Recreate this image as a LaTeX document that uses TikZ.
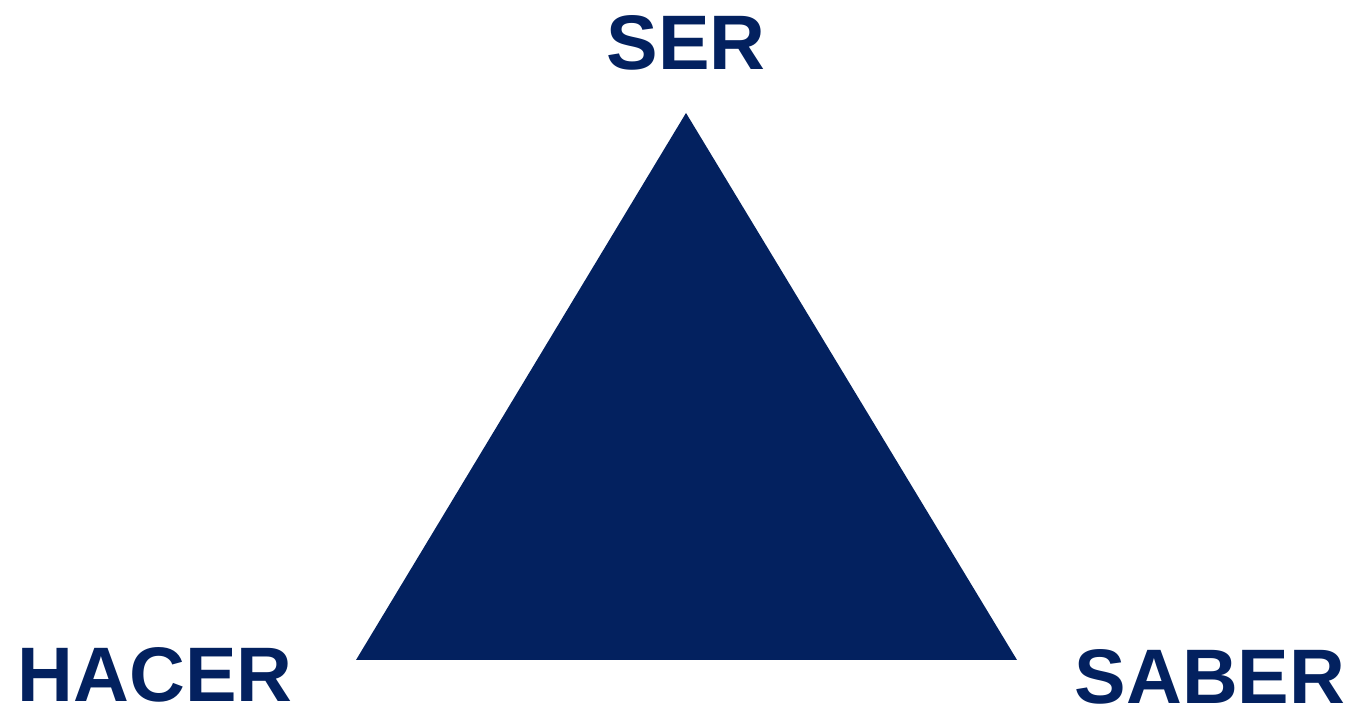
\documentclass[tikz,border=0pt]{standalone}
\usepackage{fontspec}
\setmainfont{Liberation Sans}
\definecolor{navy}{HTML}{03215F}
\tikzset{
  corner/.style={font=\fontsize{44}{44}\selectfont\bfseries, text=navy, anchor=base, inner sep=0pt},
  wedge/.style={fill=navy, draw=none},
}
\begin{document}
\begin{tikzpicture}[x=0.02cm, y=0.02cm]
  \useasboundingbox (0,0) rectangle (1355,705);
  \coordinate (top) at (686,592);
  \coordinate (left) at (356,45);
  \coordinate (right) at (1017,45);
  \fill[wedge] (top) -- (right) -- (left) -- cycle;
  \node[corner] (ser) at (686,635) {SER};
  \node[corner] (hacer) at (155,3) {HACER};
  \node[corner] (saber) at (1210,1) {SABER};
\end{tikzpicture}
\end{document}
